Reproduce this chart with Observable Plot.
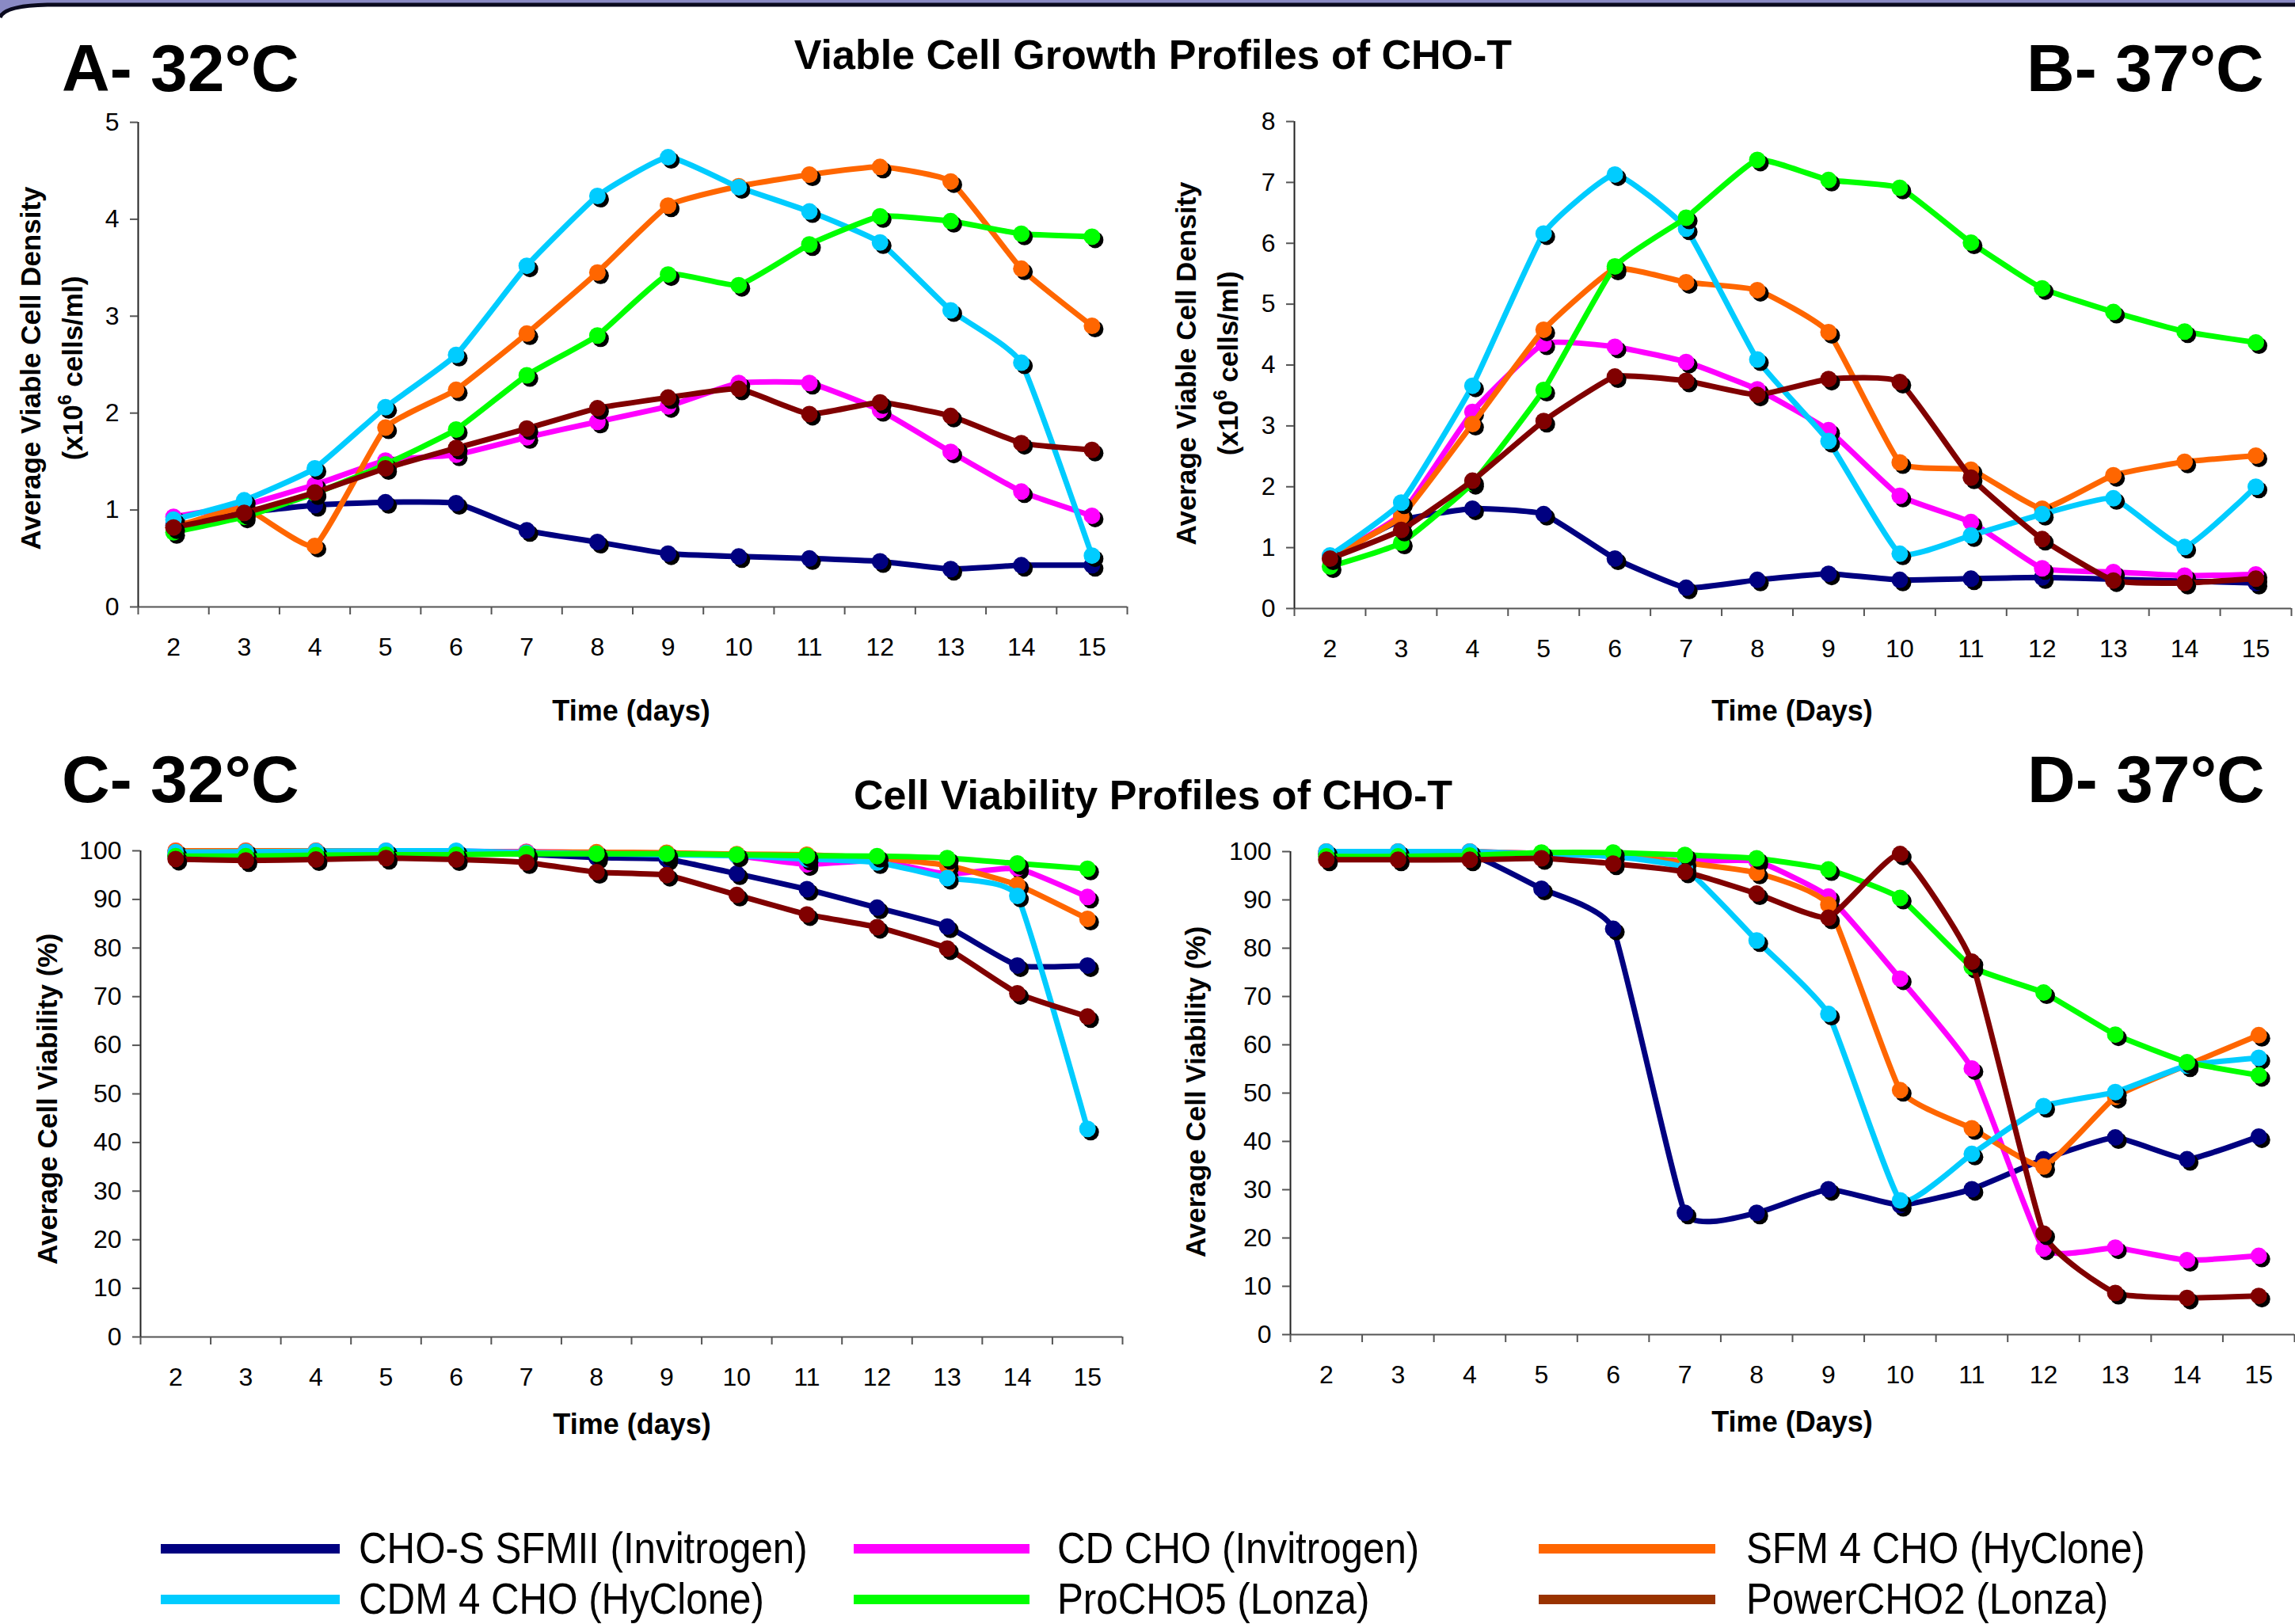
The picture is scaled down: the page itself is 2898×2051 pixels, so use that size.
<!DOCTYPE html>
<html><head><meta charset="utf-8">
<script src="https://cdn.jsdelivr.net/npm/d3@7"></script>
<script src="https://cdn.jsdelivr.net/npm/@observablehq/plot@0.6"></script>
<style>
html,body{margin:0;padding:0;background:#fff;}
#wrap{position:relative;width:2898px;height:2051px;overflow:hidden;background:#fff;}
#wrap > svg{position:absolute;}
</style></head><body><div id="wrap"></div>
<script>
const FONT = '"Liberation Sans", Arial, Helvetica, sans-serif';
const days = [2,3,4,5,6,7,8,9,10,11,12,13,14,15];
const seriesNames = ["CHO-S SFMII (Invitrogen)","CD CHO (Invitrogen)","SFM 4 CHO (HyClone)","CDM 4 CHO (HyClone)","ProCHO5 (Lonza)","PowerCHO2 (Lonza)"];
const lineColors = ["#000080","#FF00FF","#FF6600","#00CCFF","#00FF00","#800000"];
const legendColors = ["#000080","#FF00FF","#FF6600","#00CCFF","#00FF00","#993300"];

// A - 32°C viable cell density (x10^6 cells/ml), series order as seriesNames
const growth32 = [
  [0.84,0.97,1.05,1.08,1.07,0.79,0.67,0.55,0.52,0.50,0.47,0.39,0.43,0.43],
  [0.93,1.05,1.26,1.51,1.57,1.75,1.91,2.07,2.31,2.31,2.03,1.60,1.19,0.94],
  [0.82,1.02,0.63,1.85,2.24,2.82,3.45,4.14,4.34,4.46,4.54,4.39,3.49,2.90],
  [0.90,1.10,1.43,2.06,2.60,3.52,4.24,4.64,4.33,4.08,3.76,3.06,2.52,0.53],
  [0.77,0.93,1.17,1.47,1.83,2.39,2.80,3.43,3.32,3.74,4.03,3.98,3.85,3.82],
  [0.82,0.97,1.18,1.43,1.64,1.84,2.05,2.16,2.25,1.99,2.11,1.97,1.69,1.62]
];
// B - 37°C viable cell density
const growth37 = [
  [0.84,1.45,1.64,1.55,0.82,0.34,0.47,0.57,0.47,0.49,0.51,0.48,0.45,0.42],
  [0.84,1.55,3.23,4.35,4.30,4.05,3.60,2.93,1.85,1.42,0.66,0.60,0.54,0.56],
  [0.84,1.51,3.03,4.58,5.58,5.36,5.23,4.54,2.40,2.28,1.64,2.19,2.41,2.51],
  [0.87,1.74,3.66,6.16,7.13,6.24,4.09,2.75,0.90,1.20,1.55,1.81,1.01,2.00],
  [0.69,1.08,2.06,3.59,5.62,6.42,7.37,7.04,6.91,6.01,5.26,4.87,4.55,4.37],
  [0.82,1.29,2.10,3.08,3.81,3.74,3.51,3.77,3.72,2.15,1.14,0.46,0.42,0.49]
];
// C - 32°C viability (%)
const viability32 = [
  [99.0,99.4,99.6,99.7,99.6,99.3,98.6,98.3,95.3,92.1,88.3,84.4,76.4,76.4],
  [100,100,100,100,99.9,99.8,99.6,99.5,99.0,97.2,98.0,95.2,96.4,90.5],
  [100,100,100,99.9,99.8,99.7,99.7,99.6,99.3,99.2,98.5,97.0,93.0,86.0],
  [99.7,99.8,99.9,100,100,99.6,99.4,99.2,99.0,98.3,97.6,94.4,90.7,42.8],
  [98.9,98.9,99.1,99.2,99.2,99.4,99.4,99.4,99.2,99.0,98.9,98.5,97.4,96.3],
  [98.3,98.0,98.2,98.5,98.2,97.6,95.6,95.0,90.9,86.9,84.3,79.9,70.7,65.9]
];
// D - 37°C viability (%)
const viability37 = [
  [99.5,99.5,99.5,92.3,84.0,25.2,25.2,30.1,26.8,30.1,36.3,40.8,36.3,41.0],
  [100,100,100,99.6,99.3,98.0,98.0,90.7,73.7,55.1,17.8,18.0,15.4,16.3],
  [100,100,100,99.6,99.2,97.7,95.6,89.0,50.6,42.7,34.8,49.2,55.8,62.0],
  [100,100,100,99.5,99.0,96.5,81.6,66.4,27.8,37.4,47.3,50.2,55.7,57.3],
  [99.0,99.0,99.2,99.8,99.8,99.3,98.6,96.3,90.4,76.1,70.8,62.1,56.4,53.7],
  [98.3,98.3,98.3,98.6,97.5,95.8,91.3,86.3,99.5,77.2,20.9,8.6,7.6,8.0]
];
const growthTicks = [0,1,2,3,4,5];
const growth37Ticks = [0,1,2,3,4,5,6,7,8];
const viabilityTicks = [0,10,20,30,40,50,60,70,80,90,100];
const bounds = [1.5,2.5,3.5,4.5,5.5,6.5,7.5,8.5,9.5,10.5,11.5,12.5,13.5,14.5,15.5];

const wrap = document.getElementById("wrap");
const smooth = d3.curveCardinal.tension(0.6);

function panel(values, yDomain, yTicks, box) {
  const marks = [];
  values.forEach((vals, i) => {
    const rows = days.map((d, j) => ({day: d, value: vals[j], series: seriesNames[i]}));
    marks.push(Plot.line(rows, {x: "day", y: "value", stroke: lineColors[i], strokeWidth: 7, curve: smooth, strokeLinejoin: "round"}));
    marks.push(Plot.dot(rows, {x: "day", y: "value", r: 10.5, fill: "black", dx: 4, dy: 4}));
    marks.push(Plot.dot(rows, {x: "day", y: "value", r: 10.5, fill: lineColors[i]}));
  });
  const p = Plot.plot({
    width: box.w, height: box.h,
    marginLeft: box.mL, marginRight: box.mR, marginTop: box.mT, marginBottom: box.mB,
    x: {type: "linear", domain: [1.5, 15.5]},
    y: {domain: yDomain},
    style: {fontFamily: FONT, fontSize: "32px", color: "black", background: "transparent", overflow: "visible"},
    marks: [
      Plot.ruleY([yDomain[0]], {stroke: "#555", strokeWidth: 2}),
      Plot.ruleX([1.5], {stroke: "#222", strokeWidth: 2}),
      Plot.axisX(bounds, {tickSize: 10, tickFormat: () => "", stroke: "#555", strokeWidth: 2, label: null}),
      Plot.axisX(days, {tickSize: 0, tickPadding: 39, fontSize: 32, label: null, fill: "black", tickFormat: d => String(d)}),
      Plot.axisY(yTicks, {tickSize: 10, tickPadding: 14, fontSize: 32, label: null, stroke: "#555", strokeWidth: 2, fill: "black", tickFormat: d => String(d)}),
      ...marks
    ]
  });
  p.style.position = "absolute";
  p.style.left = box.x + "px";
  p.style.top = box.y + "px";
  wrap.appendChild(p);
}

panel(growth32, [0, 5], growthTicks, {x: 0, y: 0, w: 1449, h: 940, mL: 174, mR: 26, mT: 154, mB: 174});
panel(growth37, [0, 8], growth37Ticks, {x: 1449, y: 0, w: 1449, h: 940, mL: 185, mR: 5, mT: 153, mB: 172});
panel(viability32, [0, 100], viabilityTicks, {x: 0, y: 940, w: 1449, h: 900, mL: 177, mR: 32, mT: 134, mB: 152});
panel(viability37, [0, 100], viabilityTicks, {x: 1449, y: 940, w: 1449, h: 900, mL: 180, mR: 1, mT: 135, mB: 155});

// overlay: frame, titles, axis titles, legend
const ov = d3.create("svg").attr("width", 2898).attr("height", 2051)
  .style("left", "0px").style("top", "0px").style("pointer-events", "none")
  .attr("font-family", FONT);

ov.append("path").attr("d", "M0,0 L2898,0 L2898,6 L60,6 Q6,7 0,22 Z").attr("fill", "#8a8ac4");
ov.append("path").attr("d", "M0,22 Q6,7 60,6 L2898,6").attr("fill", "none").attr("stroke", "#0a0a1e").attr("stroke-width", 5);

function txt(x, y, s, size, weight, anchor) {
  return ov.append("text").attr("x", x).attr("y", y).attr("font-size", size)
    .attr("font-weight", weight).attr("text-anchor", anchor).attr("fill", "black").text(s);
}
txt(1456, 87, "Viable Cell Growth Profiles of CHO-T", 52, "bold", "middle");
txt(1456, 1022, "Cell Viability Profiles of CHO-T", 52, "bold", "middle");
txt(78, 115, "A- 32°C", 84, "bold", "start");
txt(2559, 115, "B- 37°C", 84, "bold", "start");
txt(78, 1013, "C- 32°C", 84, "bold", "start");
txt(2560, 1013, "D- 37°C", 84, "bold", "start");
txt(797, 910, "Time (days)", 36, "bold", "middle");
txt(2263, 910, "Time (Days)", 36, "bold", "middle");
txt(798, 1811, "Time (days)", 36, "bold", "middle");
txt(2263, 1808, "Time (Days)", 36, "bold", "middle");

function rotLabel(bx, cy, s) {
  return ov.append("text").attr("transform", `translate(${bx},${cy}) rotate(-90)`)
    .attr("font-size", 35).attr("font-weight", "bold").attr("text-anchor", "middle").attr("fill", "black").text(s);
}
function densityLabel(b1, b2, cy) {
  rotLabel(b1, cy, "Average Viable Cell Density");
  const t = ov.append("text").attr("transform", `translate(${b2},${cy}) rotate(-90)`)
    .attr("font-size", 35).attr("font-weight", "bold").attr("text-anchor", "middle").attr("fill", "black");
  t.append("tspan").text("(x10");
  t.append("tspan").attr("font-size", 23).attr("dy", -14).text("6");
  t.append("tspan").attr("dy", 14).text(" cells/ml)");
}
densityLabel(51, 104, 465);
densityLabel(1510, 1563, 459);
rotLabel(72, 1388, "Average Cell Viability (%)");
rotLabel(1522, 1379, "Average Cell Viability (%)");

// legend
const legX = [[203, 429, 453], [1078, 1300, 1335], [1943, 2166, 2205]];
const legY = [[1956, 1974], [2020, 2038]];
seriesNames.forEach((s, i) => {
  const c = legX[i % 3], r = legY[Math.floor(i / 3)];
  ov.append("line").attr("x1", c[0]).attr("x2", c[1]).attr("y1", r[0]).attr("y2", r[0])
    .attr("stroke", legendColors[i]).attr("stroke-width", 12);
  ov.append("text").attr("transform", `translate(${c[2]},${r[1]}) scale(0.88,1)`)
    .attr("font-size", 56).attr("fill", "black").text(s);
});

wrap.appendChild(ov.node());
</script></body></html>
